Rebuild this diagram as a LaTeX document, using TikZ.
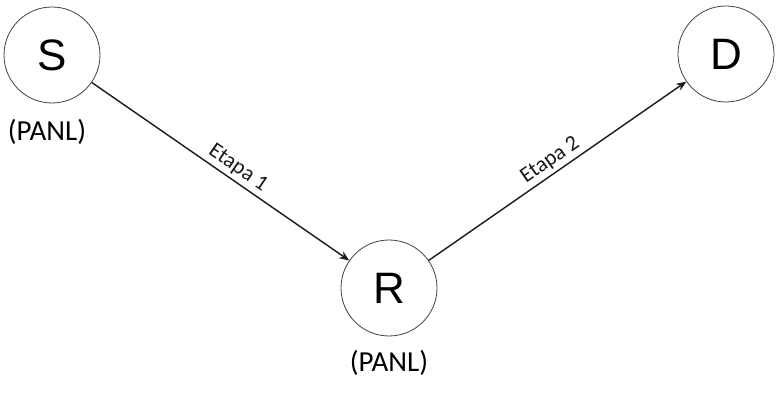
\documentclass[tikz,border=0pt]{standalone}
\usepackage{fontspec}
\setmainfont{Carlito}
\newfontfamily\letterfont{Liberation Sans}
\usetikzlibrary{arrows.meta, positioning}
\tikzset{
  station/.style={circle, draw=black!75, line width=0.8pt, fill=white,
                  minimum size=96pt, inner sep=0pt, font=\letterfont\fontsize{44}{44}\selectfont},
  tagPanl/.style={font=\fontsize{29}{29}\selectfont, inner sep=0pt},
  hopArrow/.style={-{Stealth[length=10pt, width=8pt]}, line width=1.4pt, black!90},
  hopLabel/.style={font=\fontsize{22}{22}\selectfont, sloped, above, inner sep=3pt},
}
\begin{document}
\begin{tikzpicture}[x=1pt, y=-1pt]
    \useasboundingbox (0,0) rectangle (780,403);
    \node[station] (src) at (52,55) {S};
    \node[station] (rel) at (389,288) {R};
    \node[station] (dst) at (726,54) {D};
    \node[tagPanl] (srcTag) at (47,132) {(PANL)};
    \node[tagPanl] (relTag) at (389,363) {(PANL)};
    % two hops
    \draw[hopArrow] (src) -- node[hopLabel, pos=0.54] {Etapa 1} (rel);
    \draw[hopArrow] (rel) -- node[hopLabel, pos=0.5] {Etapa 2} (dst);
  \end{tikzpicture}
\end{document}
